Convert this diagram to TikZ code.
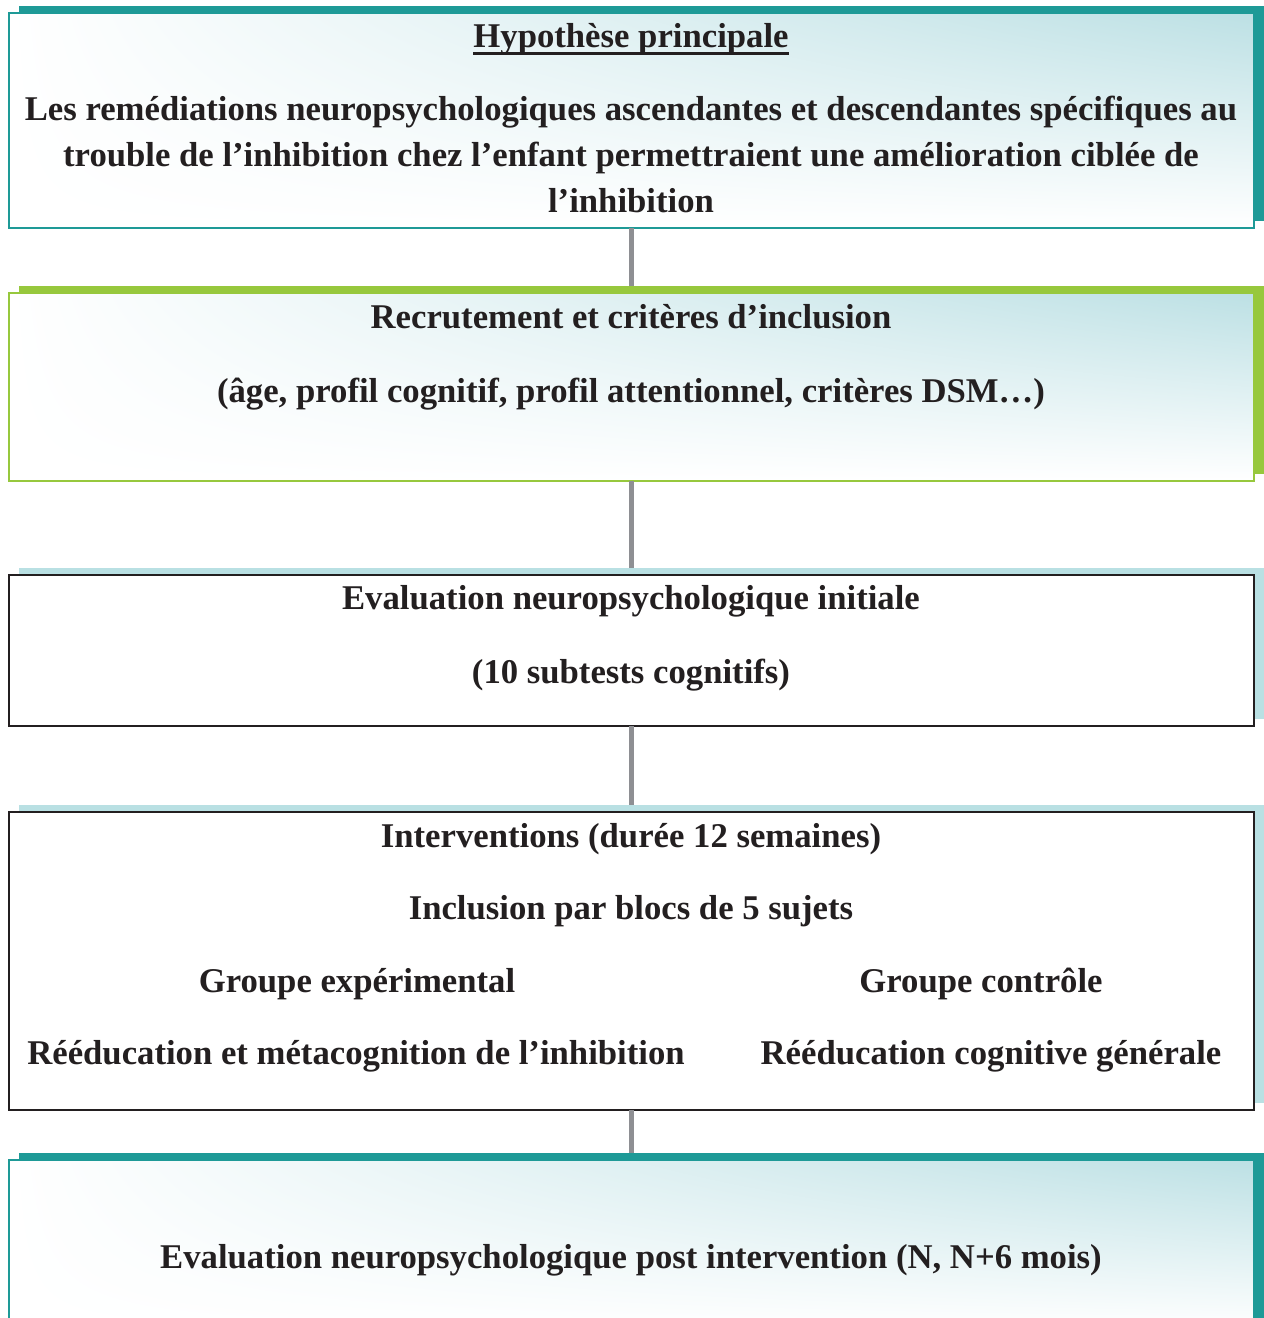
\documentclass[tikz,border=0pt]{standalone}
\usepackage{fontspec}
\setmainfont{Liberation Serif}
\usetikzlibrary{shadows,shadings}
\definecolor{tealc}{HTML}{1E9A97}
\definecolor{greenc}{HTML}{97C83D}
\definecolor{lteal}{HTML}{B9E0E3}
\definecolor{gradc}{HTML}{BCE0E4}
\definecolor{linec}{HTML}{8E8F93}
\definecolor{darkc}{HTML}{231F20}
\begin{document}
\begin{tikzpicture}[x=1pt,y=-1pt,
  box/.style={minimum width=1245pt, inner sep=0pt, anchor=north west, outer sep=0pt},
  gradbox/.style={box, upper left=white, upper right=gradc, lower left=white, lower right=white},
  shad/.style={general shadow={shadow xshift=10pt, shadow yshift=7pt, fill=#1, draw=none}},
  txt/.style={font=\bfseries\fontsize{34.7}{46}\selectfont, anchor=base, inner sep=0pt, text=darkc},
  conn/.style={draw=linec, line width=5.5pt}]
\clip (0,0) rectangle (1264,1318);
% boxes
\node[gradbox, shad=tealc, draw=tealc, line width=1.5pt, minimum height=215pt] (b1) at (9,13) {};
\node[gradbox, shad=greenc, draw=greenc, line width=1.5pt, minimum height=188pt] (b2) at (9,293) {};
\node[box, shad=lteal, fill=white, draw=darkc, line width=1.8pt, minimum height=151pt] (b3) at (9,575) {};
\node[box, shad=lteal, fill=white, draw=darkc, line width=1.8pt, minimum height=298pt] (b4) at (9,812) {};
\node[gradbox, shad=tealc, draw=tealc, line width=1.5pt, minimum height=170pt] (b5) at (9,1160) {};
% connectors
\draw[conn, shorten >=7pt] (b1.south) -- (b2.north);
\draw[conn, shorten >=7pt] (b2.south) -- (b3.north);
\draw[conn, shorten >=7pt] (b3.south) -- (b4.north);
\draw[conn, shorten >=7pt] (b4.south) -- (b5.north);
% texts
\node[txt] (t1) at (631,47) {Hypothèse principale};
\draw[darkc, line width=3pt] ([yshift=-6pt]t1.base west) -- ([yshift=-6pt]t1.base east);
\node[txt] (t2) at (631,120) {Les remédiations neuropsychologiques ascendantes et descendantes spécifiques au};
\node[txt] (t3) at (631,166) {trouble de l’inhibition chez l’enfant permettraient une amélioration ciblée de};
\node[txt] (t4) at (631,212) {l’inhibition};
\node[txt] (t5) at (631,328) {Recrutement et critères d’inclusion};
\node[txt] (t6) at (631,402) {(âge, profil cognitif, profil attentionnel, critères DSM…)};
\node[txt] (t7) at (631,609) {Evaluation neuropsychologique initiale};
\node[txt] (t8) at (631,683) {(10 subtests cognitifs)};
\node[txt] (t9) at (631,847) {Interventions (durée 12 semaines)};
\node[txt] (t10) at (631,919) {Inclusion par blocs de 5 sujets};
\node[txt] (t11) at (357,992) {Groupe expérimental};
\node[txt] (t12) at (981,992) {Groupe contrôle};
\node[txt] (t13) at (356,1064) {Rééducation et métacognition de l’inhibition};
\node[txt] (t14) at (991,1064) {Rééducation cognitive générale};
\node[txt] (t15) at (631,1268) {Evaluation neuropsychologique post intervention (N, N+6 mois)};
\end{tikzpicture}
\end{document}
